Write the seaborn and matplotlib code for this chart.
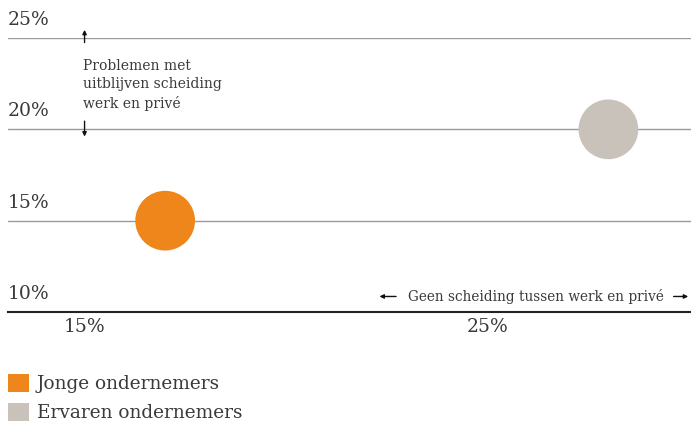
import numpy as np
import pandas as pd
import matplotlib
matplotlib.use('Agg')
import matplotlib.pyplot as plt
from matplotlib.patches import Patch
import seaborn as sns

# ====================== 数据 ======================
groups = ["Jonge ondernemers", "Ervaren ondernemers"]
geen_scheiding = [17.0, 28.0]      # x: geen scheiding tussen werk en privé (%)
problemen = [15.0, 20.0]           # y: problemen met uitblijven scheiding (%)
colors = ["#EF861C", "#C9C2BB"]
y_ticks = [10, 15, 20, 25]
x_ticks = [15, 25]

df = pd.DataFrame({"groep": groups, "x": geen_scheiding, "y": problemen})

sns.set_style("white")
plt.rcParams['font.family'] = ['DejaVu Serif', 'DejaVu Sans']
TXT = "#3a3a3a"

fig = plt.figure(figsize=(6.91, 4.28), dpi=100)
ax = fig.add_axes([8 / 691, 116 / 428, 683 / 691, 274 / 428])

sns.scatterplot(data=df, x="x", y="y", hue="groep", palette=colors,
                s=1850, linewidth=0, legend=False, ax=ax, zorder=3)

ax.set_xlim(13.1, 30.05)
ax.set_ylim(10, 25)
for s in ["top", "right", "left"]:
    ax.spines[s].set_visible(False)
ax.spines["bottom"].set_color("#222222")
ax.spines["bottom"].set_linewidth(1.5)

# horizontale rasterlijnen + labels boven de lijn
for yt in y_ticks:
    if yt > 10:
        ax.axhline(yt, color="#9a9a9a", lw=1, zorder=1)
    ax.annotate(f"{yt}%", xy=(0, yt), xycoords=("axes fraction", "data"),
                xytext=(0, 6.5), textcoords="offset points", ha="left", va="bottom",
                fontsize=13.5, color=TXT, annotation_clip=False)
ax.set_yticks([])

ax.set_xticks(x_ticks)
ax.set_xticklabels([f"{t}%" for t in x_ticks], fontsize=13.5, color=TXT)
ax.tick_params(axis="x", length=0, pad=4)
ax.set_xlabel("")
ax.set_ylabel("")

arrow = dict(arrowstyle="-|>", color="#111111", lw=1, mutation_scale=6)

# y-as toelichting met pijlen
ax.annotate("", xy=(15, 25.6), xytext=(15, 24.6), arrowprops=arrow, annotation_clip=False)
ax.text(14.95, 23.85, "Problemen met\nuitblijven scheiding\nwerk en privé", ha="left", va="top",
        fontsize=10, color=TXT, linespacing=1.4)
ax.annotate("", xy=(15, 19.45), xytext=(15, 20.6), arrowprops=arrow)

# x-as toelichting met pijlen
ax.text(26.2, 10.85, "Geen scheiding tussen werk en privé", ha="center", va="center",
        fontsize=9.8, color=TXT)
ax.annotate("", xy=(22.25, 10.85), xytext=(22.8, 10.85), arrowprops=arrow)
ax.annotate("", xy=(30.05, 10.85), xytext=(29.55, 10.85), arrowprops=arrow,
            annotation_clip=False)

handles = [Patch(facecolor=c, edgecolor="none") for c in colors]
fig.legend(handles, groups, loc="upper left", bbox_to_anchor=(8 / 691, 0.126), frameon=False,
           fontsize=13.3, handlelength=1.15, handleheight=1.15, handletextpad=0.4,
           labelspacing=0.5, borderaxespad=0, borderpad=0, labelcolor=TXT)

fig.savefig("out.png", dpi=100)
